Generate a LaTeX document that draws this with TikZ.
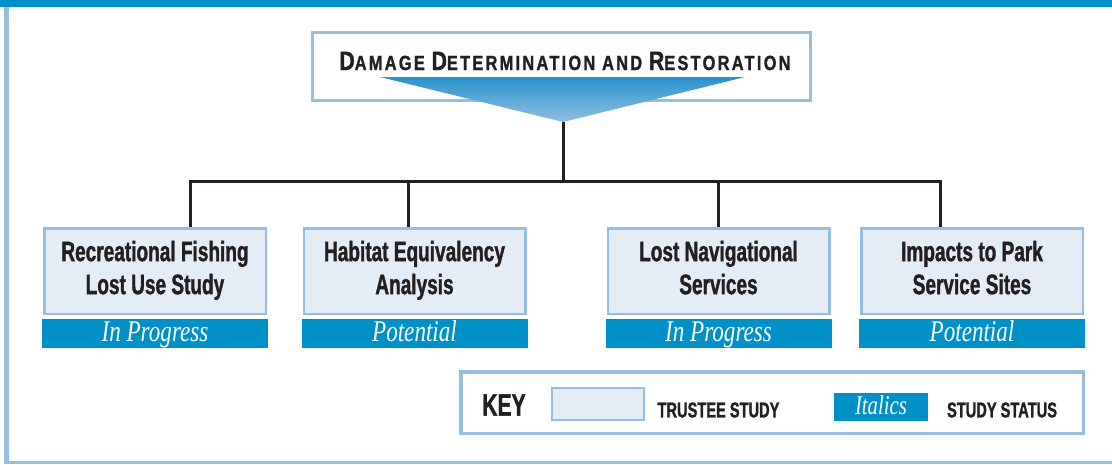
\documentclass[tikz,border=0pt]{standalone}
\usepackage{fontspec}
\setmainfont{Liberation Sans}
\newfontfamily\condfont[FakeStretch=0.68, BoldFeatures={FakeBold=1.2}]{Liberation Sans}
\newfontfamily\titlefont[FakeStretch=0.8, LetterSpace=11, BoldFeatures={FakeBold=1.2}]{Liberation Sans}
\newfontfamily\statusfont[FakeStretch=0.77]{Liberation Serif}
\usetikzlibrary{positioning}

\definecolor{barblue}{HTML}{0090C8}
\definecolor{edgeblue}{HTML}{96BEE1}
\definecolor{paleblue}{HTML}{E4ECF6}
\definecolor{inkblack}{HTML}{231F20}
\definecolor{shadetop}{HTML}{2A92CB}
\definecolor{shadebot}{HTML}{8FBFE3}

\newcommand{\firstcap}[1]{{\fontsize{26.5}{24}\selectfont #1}}

\tikzstyle{study}=[draw=edgeblue, line width=2.5pt, fill=paleblue, minimum width=221.5pt, minimum height=85.5pt, inner sep=0pt, align=center, text=inkblack, font=\condfont\bfseries\fontsize{28}{33}\selectfont]
\tikzstyle{status}=[fill=barblue, minimum width=226pt, minimum height=29.5pt, inner sep=0pt, text=white, text height=22pt, text depth=5.5pt, font=\statusfont\itshape\fontsize{30}{30}\selectfont]
\tikzstyle{keytext}=[inner sep=0pt, text=inkblack, font=\condfont\bfseries\fontsize{21.5}{24}\selectfont]
\tikzstyle{link}=[draw=inkblack, line width=3pt]

\begin{document}
\begin{tikzpicture}[x=1pt, y=-1pt]
    \useasboundingbox (0,0) rectangle (1112,464);
% Frame
    \fill[barblue] (0,0) rectangle (1112,7);
    \fill[edgeblue] (4,7) rectangle (9,464);
    \fill[edgeblue] (4,461) rectangle (1112,464);
% Title box and funnel
    \node[draw=edgeblue, line width=3pt, fill=white, minimum width=498pt, minimum height=68pt, inner sep=0pt] (goal) at (561.5,66.5) {};
    \node[anchor=base, inner sep=0pt, text=inkblack, font=\titlefont\bfseries\fontsize{20.5}{24}\selectfont] (title) at (565,70)
        {\firstcap{D}AMAGE \firstcap{D}ETERMINATION AND \firstcap{R}ESTORATION};
    \shade[top color=shadetop, bottom color=shadebot] (380,77) -- (745,77) -- (563,122) -- cycle;
    \coordinate (tip) at (563,122);
% Studies
    \node[study] (fishing) at (155,271) {\strut Recreational Fishing\\\strut Lost Use Study};
    \node[study] (habitat) at (414.5,271) {\strut Habitat Equivalency\\\strut Analysis};
    \node[study] (navigation) at (718.5,271) {\strut Lost Navigational\\\strut Services};
    \node[study] (parks) at (972,271) {\strut Impacts to Park\\\strut Service Sites};
% Status bars
    \node[status] (fishingstat) at (155,333.7) {In Progress};
    \node[status] (habitatstat) at (414.5,333.7) {Potential};
    \node[status] (navigationstat) at (718.5,333.7) {In Progress};
    \node[status] (parksstat) at (972,333.7) {Potential};
% Tree
    \coordinate (hub) at (563,181);
    \coordinate (j1) at (190,181);
    \coordinate (j2) at (408,181);
    \coordinate (j3) at (718,181);
    \coordinate (j4) at (940,181);
    \draw[link] (tip) -- (hub);
    \draw[link] (fishing.north -| j1) -- (j1) -- (j4) -- (parks.north -| j4);
    \draw[link] (j2) -- (habitat.north -| j2);
    \draw[link] (j3) -- (navigation.north -| j3);
% Key
    \node[draw=edgeblue, line width=3.5pt, minimum width=622.5pt, minimum height=61.5pt, inner sep=0pt] (key) at (772,402.5) {};
    \node[keytext, font=\condfont\bfseries\fontsize{31}{34}\selectfont] (keylabel) at (504,405) {KEY};
    \node[draw=edgeblue, line width=2pt, fill=paleblue, minimum width=92pt, minimum height=32pt, inner sep=0pt] (keybox) at (598,404) {};
    \node[keytext] (keystudy) at (718.5,410) {TRUSTEE STUDY};
    \node[status, minimum width=94pt, minimum height=28pt, text height=19pt, text depth=5pt, font=\statusfont\itshape\fontsize{27}{26}\selectfont] (keystatus) at (881,407) {Italics};
    \node[keytext] (keystat) at (1002,410) {STUDY STATUS};
\end{tikzpicture}
\end{document}
